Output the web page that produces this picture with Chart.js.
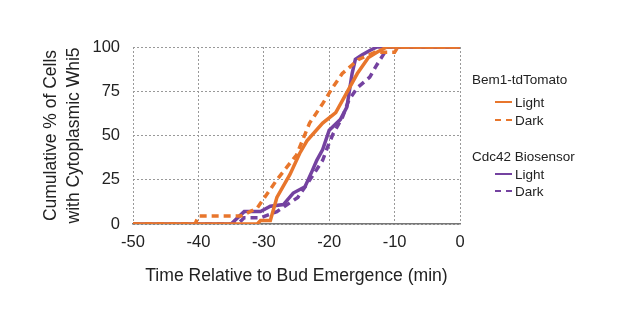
<!DOCTYPE html>
<html>
<head>
<meta charset="utf-8">
<script src="https://cdn.jsdelivr.net/npm/chart.js@4"></script>
<style>
  body { margin: 0; background: #fff; }
  #wrap { position: relative; width: 617px; height: 333px; font-family: "Liberation Sans", Arial, sans-serif; }
  #chart { position: absolute; left: 0; top: 0; }
  .lg { position: absolute; font-size: 13.5px; color: #222; white-space: nowrap; line-height: 16px; }
  .sw { display: inline-block; width: 17px; height: 0; vertical-align: middle; margin-right: 3px; position: relative; top: -1px; }
</style>
</head>
<body>
<div id="wrap">
  <canvas id="chart" width="617" height="333"></canvas>
  <div class="lg" style="left:472px; top:72px;">Bem1-tdTomato</div>
  <div class="lg" style="left:495px; top:95px;"><span class="sw" style="border-top:2px solid #E8762C"></span>Light</div>
  <div class="lg" style="left:495px; top:113px;"><span class="sw" style="border-top:2px dashed #E8762C"></span>Dark</div>
  <div class="lg" style="left:472px; top:149px;">Cdc42 Biosensor</div>
  <div class="lg" style="left:495px; top:167px;"><span class="sw" style="border-top:2px solid #7442A0"></span>Light</div>
  <div class="lg" style="left:495px; top:184px;"><span class="sw" style="border-top:2px dashed #7442A0"></span>Dark</div>
</div>
<script>
// valores (tempo em min, % acumulada)
const bem1LightX = [-50, -31, -30.5, -29, -28, -26, -24.5, -23.4, -21, -19, -17.5, -15.7, -14, -12.7, -11.2, 0];
const bem1LightY = [0, 0, 2, 2, 15, 28, 40, 47, 57, 63, 73, 85, 94, 97, 100, 100];
const bem1DarkX = [-50, -40.5, -40, -33.5, -31, -28, -25, -23, -21, -19.5, -18, -15.5, -13, -10, -9.5, 0];
const bem1DarkY = [0, 0, 4.5, 4.5, 9, 25, 39, 57, 68, 77, 85, 93, 97, 97, 100, 100];
const cdc42LightX = [-50, -35, -33, -30.5, -29, -27, -25.5, -23.7, -22.6, -21.9, -21, -20, -18.3, -17.3, -16.5, -16, -15, -13.8, -12.7, 0];
const cdc42LightY = [0, 0, 7, 7, 10, 11, 17.5, 21, 30, 36, 42, 53, 59, 66, 85, 93, 95.5, 98, 100, 100];
const cdc42DarkX = [-50, -34, -33, -30.5, -28, -24.8, -22.4, -21, -20.3, -19.4, -18, -17, -15.7, -13.8, -12.7, -11.5, -11.2, 0];
const cdc42DarkY = [0, 0, 3.5, 3.5, 7, 15, 28, 36, 43, 51, 60, 70, 77, 83, 90, 97, 100, 100];
const xTicks = [-50, -40, -30, -20, -10, 0];
const yTicks = [0, 25, 50, 75, 100];

const orange = '#E8762C';
const purple = '#7442A0';
const fonte = "'Liberation Sans', Arial, sans-serif";

function pts(xs, ys) {
    return xs.map((x, i) => ({ x: x, y: ys[i] }));
}

const ctx = document.getElementById('chart').getContext('2d');

new Chart(ctx, {
    type: 'line',
    data: {
        // o primeiro dataset fica por cima
        datasets: [{
            label: 'Bem1 Light',
            data: pts(bem1LightX, bem1LightY),
            borderColor: orange,
            borderWidth: 3.5
        }, {
            label: 'Bem1 Dark',
            data: pts(bem1DarkX, bem1DarkY),
            borderColor: orange,
            borderWidth: 3.5,
            borderDash: [7, 5]
        }, {
            label: 'Cdc42 Light',
            data: pts(cdc42LightX, cdc42LightY),
            borderColor: purple,
            borderWidth: 3.5
        }, {
            label: 'Cdc42 Dark',
            data: pts(cdc42DarkX, cdc42DarkY),
            borderColor: purple,
            borderWidth: 3.5,
            borderDash: [7, 5]
        }]
    },
    options: {
        responsive: false,
        animation: false,
        events: [],
        elements: {
            point: { radius: 0 },
            line: { tension: 0, fill: false, borderJoinStyle: 'miter' }
        },
        plugins: {
            legend: { display: false },
            tooltip: { enabled: false }
        },
        layout: {
            padding: { left: 35, right: 157, top: 47, bottom: 42 }
        },
        scales: {
            x: {
                type: 'linear',
                min: -50,
                max: 0,
                afterBuildTicks: (scale) => { scale.ticks = xTicks.map(v => ({ value: v })); },
                afterFit: (scale) => { scale.height = 67; },
                ticks: {
                    padding: 9,
                    color: '#222',
                    font: { family: fonte, size: 16.5 }
                },
                grid: {
                    color: '#999',
                    lineWidth: 1,
                    drawTicks: false
                },
                border: { display: true, color: '#777', width: 1.5, dash: [2, 2] },
                title: {
                    display: true,
                    text: 'Time Relative to Bud Emergence (min)',
                    color: '#222',
                    font: { family: fonte, size: 17.6 },
                    padding: { top: 4, bottom: 4 }
                }
            },
            y: {
                min: 0,
                max: 100,
                afterBuildTicks: (scale) => { scale.ticks = yTicks.map(v => ({ value: v })); },
                afterFit: (scale) => { scale.width = 133 - 35; },
                ticks: {
                    padding: 13,
                    color: '#222',
                    font: { family: fonte, size: 16.5 }
                },
                grid: {
                    color: '#999',
                    lineWidth: 1,
                    drawTicks: false
                },
                border: { display: false, dash: [2, 2] },
                title: {
                    display: true,
                    text: ['Cumulative % of Cells', 'with Cytoplasmic Whi5'],
                    color: '#222',
                    font: { family: fonte, size: 17.5, lineHeight: 1.35 },
                    padding: { top: 4, bottom: 4 }
                }
            }
        }
    }
});
</script>
</body>
</html>
